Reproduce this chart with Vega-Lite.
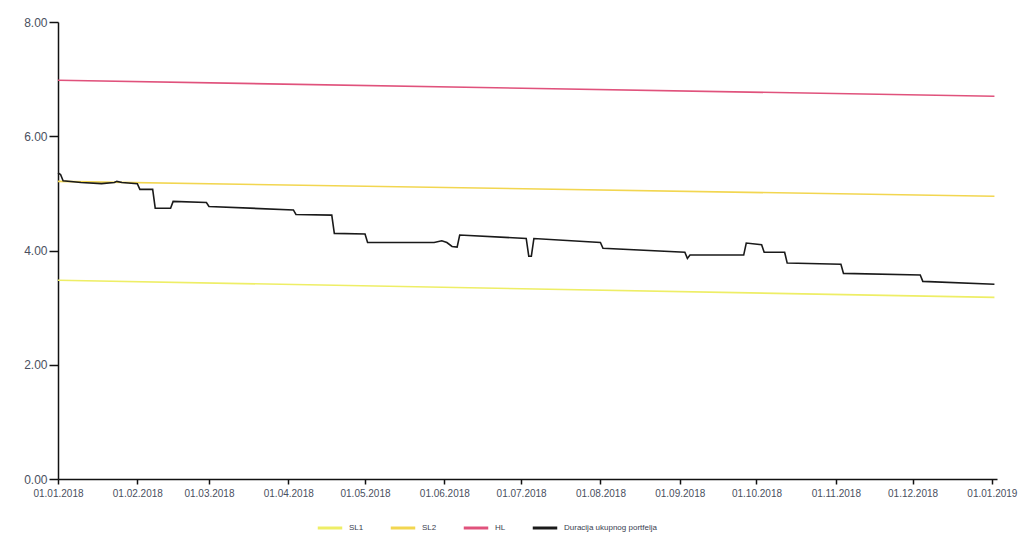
{
  "$schema": "https://vega.github.io/schema/vega-lite/v6.json",
  "autosize": {"type": "none"},
  "padding": {"left": 58, "top": 22, "right": 32, "bottom": 81},
  "width": 939,
  "height": 457,
  "background": "white",
  "config": {
    "view": {"stroke": null},
    "font": "Liberation Sans"
  },
  "data": {
    "values": [
      {"d": "2018-01-01T00:00:00", "v": 3.48, "s": "SL1"},
      {"d": "2019-01-02T00:00:00", "v": 3.18, "s": "SL1"},
      {"d": "2018-01-01T00:00:00", "v": 5.21, "s": "SL2"},
      {"d": "2019-01-02T00:00:00", "v": 4.95, "s": "SL2"},
      {"d": "2018-01-01T00:00:00", "v": 6.98, "s": "HL"},
      {"d": "2019-01-02T00:00:00", "v": 6.70, "s": "HL"},
      {"d": "2018-01-01T00:00:00", "v": 5.36, "s": "Duracija ukupnog portfelja"},
      {"d": "2018-01-02T00:00:00", "v": 5.33, "s": "Duracija ukupnog portfelja"},
      {"d": "2018-01-03T00:00:00", "v": 5.22, "s": "Duracija ukupnog portfelja"},
      {"d": "2018-01-10T00:00:00", "v": 5.19, "s": "Duracija ukupnog portfelja"},
      {"d": "2018-01-18T00:00:00", "v": 5.17, "s": "Duracija ukupnog portfelja"},
      {"d": "2018-01-23T00:00:00", "v": 5.19, "s": "Duracija ukupnog portfelja"},
      {"d": "2018-01-24T00:00:00", "v": 5.21, "s": "Duracija ukupnog portfelja"},
      {"d": "2018-01-26T00:00:00", "v": 5.19, "s": "Duracija ukupnog portfelja"},
      {"d": "2018-02-01T00:00:00", "v": 5.17, "s": "Duracija ukupnog portfelja"},
      {"d": "2018-02-02T00:00:00", "v": 5.07, "s": "Duracija ukupnog portfelja"},
      {"d": "2018-02-07T00:00:00", "v": 5.07, "s": "Duracija ukupnog portfelja"},
      {"d": "2018-02-08T00:00:00", "v": 4.74, "s": "Duracija ukupnog portfelja"},
      {"d": "2018-02-14T00:00:00", "v": 4.74, "s": "Duracija ukupnog portfelja"},
      {"d": "2018-02-15T00:00:00", "v": 4.86, "s": "Duracija ukupnog portfelja"},
      {"d": "2018-02-28T00:00:00", "v": 4.84, "s": "Duracija ukupnog portfelja"},
      {"d": "2018-03-01T00:00:00", "v": 4.77, "s": "Duracija ukupnog portfelja"},
      {"d": "2018-04-03T00:00:00", "v": 4.71, "s": "Duracija ukupnog portfelja"},
      {"d": "2018-04-04T00:00:00", "v": 4.63, "s": "Duracija ukupnog portfelja"},
      {"d": "2018-04-18T00:00:00", "v": 4.62, "s": "Duracija ukupnog portfelja"},
      {"d": "2018-04-19T00:00:00", "v": 4.30, "s": "Duracija ukupnog portfelja"},
      {"d": "2018-05-01T00:00:00", "v": 4.29, "s": "Duracija ukupnog portfelja"},
      {"d": "2018-05-02T00:00:00", "v": 4.14, "s": "Duracija ukupnog portfelja"},
      {"d": "2018-05-28T00:00:00", "v": 4.14, "s": "Duracija ukupnog portfelja"},
      {"d": "2018-05-31T00:00:00", "v": 4.17, "s": "Duracija ukupnog portfelja"},
      {"d": "2018-06-02T00:00:00", "v": 4.14, "s": "Duracija ukupnog portfelja"},
      {"d": "2018-06-04T00:00:00", "v": 4.07, "s": "Duracija ukupnog portfelja"},
      {"d": "2018-06-06T00:00:00", "v": 4.06, "s": "Duracija ukupnog portfelja"},
      {"d": "2018-06-07T00:00:00", "v": 4.27, "s": "Duracija ukupnog portfelja"},
      {"d": "2018-07-03T00:00:00", "v": 4.21, "s": "Duracija ukupnog portfelja"},
      {"d": "2018-07-04T00:00:00", "v": 3.90, "s": "Duracija ukupnog portfelja"},
      {"d": "2018-07-05T00:00:00", "v": 3.90, "s": "Duracija ukupnog portfelja"},
      {"d": "2018-07-06T00:00:00", "v": 4.21, "s": "Duracija ukupnog portfelja"},
      {"d": "2018-08-01T00:00:00", "v": 4.14, "s": "Duracija ukupnog portfelja"},
      {"d": "2018-08-02T00:00:00", "v": 4.04, "s": "Duracija ukupnog portfelja"},
      {"d": "2018-09-03T00:00:00", "v": 3.97, "s": "Duracija ukupnog portfelja"},
      {"d": "2018-09-04T00:00:00", "v": 3.86, "s": "Duracija ukupnog portfelja"},
      {"d": "2018-09-05T00:00:00", "v": 3.92, "s": "Duracija ukupnog portfelja"},
      {"d": "2018-09-26T00:00:00", "v": 3.92, "s": "Duracija ukupnog portfelja"},
      {"d": "2018-09-27T00:00:00", "v": 4.13, "s": "Duracija ukupnog portfelja"},
      {"d": "2018-10-03T00:00:00", "v": 4.10, "s": "Duracija ukupnog portfelja"},
      {"d": "2018-10-04T00:00:00", "v": 3.97, "s": "Duracija ukupnog portfelja"},
      {"d": "2018-10-12T00:00:00", "v": 3.97, "s": "Duracija ukupnog portfelja"},
      {"d": "2018-10-13T00:00:00", "v": 3.78, "s": "Duracija ukupnog portfelja"},
      {"d": "2018-11-03T00:00:00", "v": 3.76, "s": "Duracija ukupnog portfelja"},
      {"d": "2018-11-04T00:00:00", "v": 3.60, "s": "Duracija ukupnog portfelja"},
      {"d": "2018-12-04T00:00:00", "v": 3.57, "s": "Duracija ukupnog portfelja"},
      {"d": "2018-12-05T00:00:00", "v": 3.46, "s": "Duracija ukupnog portfelja"},
      {"d": "2019-01-02T00:00:00", "v": 3.41, "s": "Duracija ukupnog portfelja"}
    ]
  },
  "mark": {"type": "line", "strokeWidth": 1.6, "interpolate": "linear"},
  "encoding": {
    "x": {
      "field": "d",
      "type": "temporal",
      "scale": {"domain": ["2018-01-01T00:00:00", "2019-01-03T00:00:00"]},
      "axis": {
        "title": null,
        "format": "%d.%m.%Y",
        "tickCount": {"interval": "month", "step": 1},
        "grid": false,
        "domainColor": "#111",
        "domainWidth": 1.5,
        "tickColor": "#111",
        "tickWidth": 1.5,
        "tickSize": 5,
        "labelFontSize": 10,
        "labelColor": "#4a5060",
        "labelPadding": 4,
        "labelFlush": false,
        "labelOverlap": false
      }
    },
    "y": {
      "field": "v",
      "type": "quantitative",
      "scale": {"domain": [0, 8], "nice": false},
      "axis": {
        "title": null,
        "values": [0, 2, 4, 6, 8],
        "format": ".2f",
        "grid": false,
        "domainColor": "#111",
        "domainWidth": 1.5,
        "tickColor": "#111",
        "tickWidth": 1.5,
        "tickSize": 9,
        "labelFontSize": 12,
        "labelColor": "#4a5060",
        "labelPadding": 2
      }
    },
    "color": {
      "field": "s",
      "type": "nominal",
      "sort": ["SL1", "SL2", "HL", "Duracija ukupnog portfelja"],
      "scale": {
        "domain": ["SL1", "SL2", "HL", "Duracija ukupnog portfelja"],
        "range": ["#eeee66", "#f2d650", "#e0527c", "#1a1a1a"]
      },
      "legend": {
        "title": null,
        "orient": "none",
        "direction": "horizontal",
        "legendX": 258,
        "legendY": 492,
        "symbolType": "stroke",
        "symbolSize": 600,
        "symbolStrokeWidth": 3,
        "labelFontSize": 8,
        "labelColor": "#3a4050",
        "columnPadding": 20,
        "labelOffset": 5
      }
    },
    "strokeWidth": {
      "condition": {"test": "datum.s === 'Duracija ukupnog portfelja'", "value": 2.3},
      "value": 1.5
    }
  }
}
